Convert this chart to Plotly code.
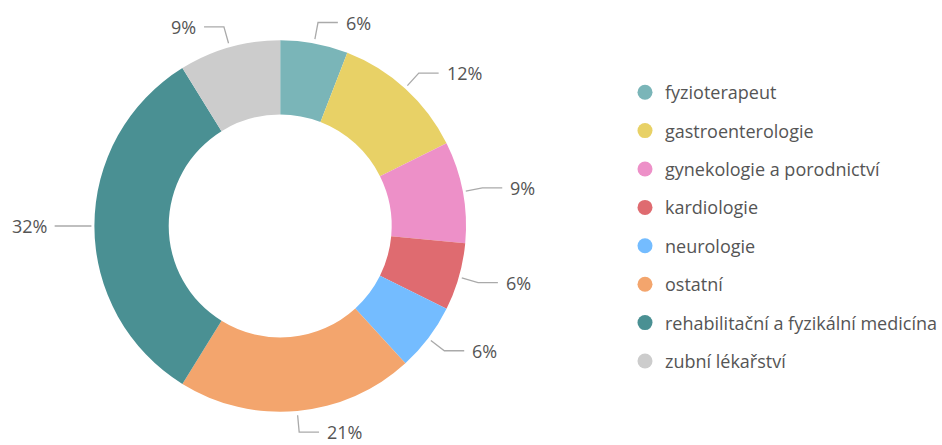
import math
import plotly.graph_objects as go

# ---- data ----
categories = [
    "fyzioterapeut",
    "gastroenterologie",
    "gynekologie a porodnictví",
    "kardiologie",
    "neurologie",
    "ostatní",
    "rehabilitační a fyzikální medicína",
    "zubní lékařství",
]
counts = [2, 4, 3, 2, 2, 7, 11, 3]
colors = ["#7ab5b8", "#e8d166", "#ed90c8", "#df6b70", "#74bcff", "#f3a56d", "#4a9093", "#cccccc"]

# ---- layout constants (pixels) ----
W, H = 942, 445
CX, CY, R = 282, 226, 187
HOLE = 0.6
FONT = "Open Sans, Noto Sans, sans-serif"
TEXT_COLOR = "#555555"


def px(x, y):
    return x / W, 1 - y / H


fig = go.Figure()

dx0, dy0 = px(CX - R, CY + R)
dx1, dy1 = px(CX + R, CY - R)
fig.add_trace(go.Pie(
    labels=categories,
    values=counts,
    sort=False,
    direction="clockwise",
    rotation=0,
    hole=HOLE,
    marker=dict(colors=colors, line=dict(width=0)),
    textinfo="none",
    hoverinfo="label+percent",
    showlegend=False,
    domain=dict(x=[dx0, dx1], y=[dy0, dy1]),
))

# legend entries with circle markers
for i, (cat, col) in enumerate(zip(categories, colors)):
    fig.add_trace(go.Scatter(
        x=[None], y=[None], mode="markers", name=cat,
        marker=dict(color=col, size=15, symbol="circle"),
        legendgroup=f"g{i}", showlegend=True, hoverinfo="skip",
    ))

# outside percentage labels with leader lines
total = sum(counts)
cum = 0
annotations = []
shapes = []
for c in counts:
    mid = (cum + c / 2) / total * 2 * math.pi
    cum += c
    s, co = math.sin(mid), -math.cos(mid)
    x0, y0 = CX + 190 * s, CY + 190 * co
    x1, y1 = CX + 207 * s, CY + 207 * co
    side = 1 if s >= 0 else -1
    x2 = x1 + 20 * side
    p0, p1, p2 = px(x0, y0), px(x1, y1), px(x2, y1)
    shapes.append(dict(
        type="path", xref="paper", yref="paper",
        path=f"M {p0[0]} {p0[1]} L {p1[0]} {p1[1]} L {p2[0]} {p2[1]}",
        line=dict(color="#aaaaaa", width=1.3),
    ))
    tx, ty = px(x2 + 6 * side, y1)
    annotations.append(dict(
        x=tx, y=ty, xref="paper", yref="paper",
        text=f"{round(c / total * 100)}%",
        showarrow=False,
        xanchor="left" if side > 0 else "right", yanchor="middle",
        font=dict(family=FONT, size=18, color=TEXT_COLOR),
    ))

lx, ly = px(629, 74)
fig.update_layout(
    width=W, height=H, autosize=False,
    margin=dict(l=0, r=0, t=0, b=0),
    paper_bgcolor="white", plot_bgcolor="white",
    xaxis=dict(visible=False), yaxis=dict(visible=False),
    shapes=shapes,
    annotations=annotations,
    legend=dict(
        x=lx, y=ly, xanchor="left", yanchor="top",
        font=dict(family=FONT, size=18, color=TEXT_COLOR),
        tracegroupgap=12, itemclick=False, itemdoubleclick=False,
    ),
)

fig.write_html(
    "out.html",
    config={"displayModeBar": False},
    post_script="document.body.style.margin='0px';",
)
